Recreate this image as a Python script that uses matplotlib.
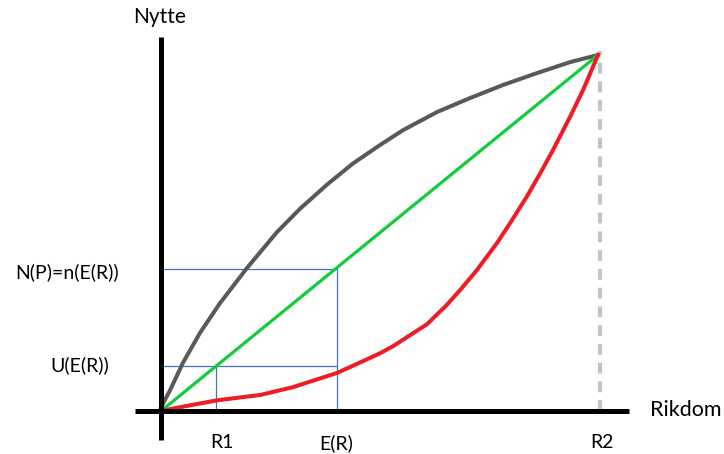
import matplotlib
matplotlib.use("Agg")
import matplotlib.pyplot as plt

# Data (x: wealth, 0..100 = R2 ; y: utility 0..100)
gray_x = [0, 2.1, 5.0, 8.9, 13.5, 19.7, 26.5, 31.8, 38.0, 43.9, 50.1, 55.4, 63.2, 70.7, 78.3, 86.0, 93.6, 100]
gray_y = [1.0, 5.9, 13.5, 21.9, 30.3, 40.2, 50.2, 56.8, 63.6, 69.5, 74.7, 78.9, 84.0, 87.9, 91.6, 94.9, 98.0, 100]

green_x = [0, 100]
green_y = [0, 100]

red_x = [0, 3.2, 12.8, 22.7, 30.2, 40.3, 45.5, 50.1, 53.1, 60.9, 65.4, 68.4, 72.3, 76.9, 79.9, 83.8, 86.7, 89.7, 93.6, 96.6, 100]
red_y = [0, 0.8, 3.0, 4.5, 6.7, 10.7, 13.6, 16.2, 18.2, 24.4, 29.8, 33.9, 39.6, 47.2, 52.8, 60.4, 66.6, 73.3, 82.6, 90.2, 100]

R1 = 12.7
ER = 40.3
R2 = 100.4
N_level = 39.9
U_level = 12.6

x_tick_labels = ["R1", "E(R)", "R2"]
y_tick_labels = ["N(P)=n(E(R))", "U(E(R))"]

fig = plt.figure(figsize=(7.24, 4.54), dpi=100)
ax = fig.add_axes([0, 0, 1, 1])
# pixel mapping: x=0 at px 161, x=100 at px 598 ; y=0 at py 411, y=100 at py 55
sx = 4.37
sy = 3.56
ax.set_xlim(-161 / sx, (724 - 161) / sx)
ax.set_ylim(-(454 - 411) / sy, 411 / sy)
ax.axis("off")

# axes lines
ax.plot([0, 0], [-(440 - 411) / sy, (411 - 37) / sy], color="black", lw=3.6,
        solid_capstyle="butt", zorder=5)
ax.plot([-(161 - 135) / sx, (629 - 161) / sx], [0, 0], color="black", lw=3.6,
        solid_capstyle="butt", zorder=5)

# blue guide lines
blue = "#4472c4"
ax.plot([0, ER], [N_level, N_level], color=blue, lw=0.9, zorder=2)
ax.plot([ER, ER], [0, N_level], color=blue, lw=0.9, zorder=2)
ax.plot([0, ER], [U_level, U_level], color=blue, lw=0.9, zorder=2)
ax.plot([R1, R1], [0, U_level], color=blue, lw=0.9, zorder=2)

# dashed vertical at R2
dl, = ax.plot([R2, R2], [0, 101], color="#c4c4c4", lw=3.0, zorder=1)
dl.set_dashes([2.6, 1.9])

# curves
ax.plot(gray_x, gray_y, color="#595959", lw=2.9, zorder=3, solid_joinstyle="round")
ax.plot(green_x, green_y, color="#12cc3c", lw=2.3, zorder=3)
ax.plot(red_x, red_y, color="#ee1c25", lw=2.9, zorder=4, solid_joinstyle="round")

font = "Lato"
ax.text(-0.3, 110.8, "Nytte", fontsize=15, family=font, ha="center", va="center")
ax.text((650 - 161) / sx, 0.2, "Rikdom", fontsize=15.5, family=font, ha="left", va="center")
ax.text(-(161 - 119) / sx, N_level - 0.8, y_tick_labels[0], fontsize=14, family=font,
        ha="right", va="center")
ax.text(-(161 - 109) / sx, U_level + 0.2, y_tick_labels[1], fontsize=14, family=font,
        ha="right", va="center")
for xv, lab in zip([R1 + 1.3, ER - 0.3, R2 + 0.6], x_tick_labels):
    ax.text(xv, -(443 - 411) / sy, lab, fontsize=14, family=font, ha="center", va="center")

fig.savefig("out.png", dpi=100)
